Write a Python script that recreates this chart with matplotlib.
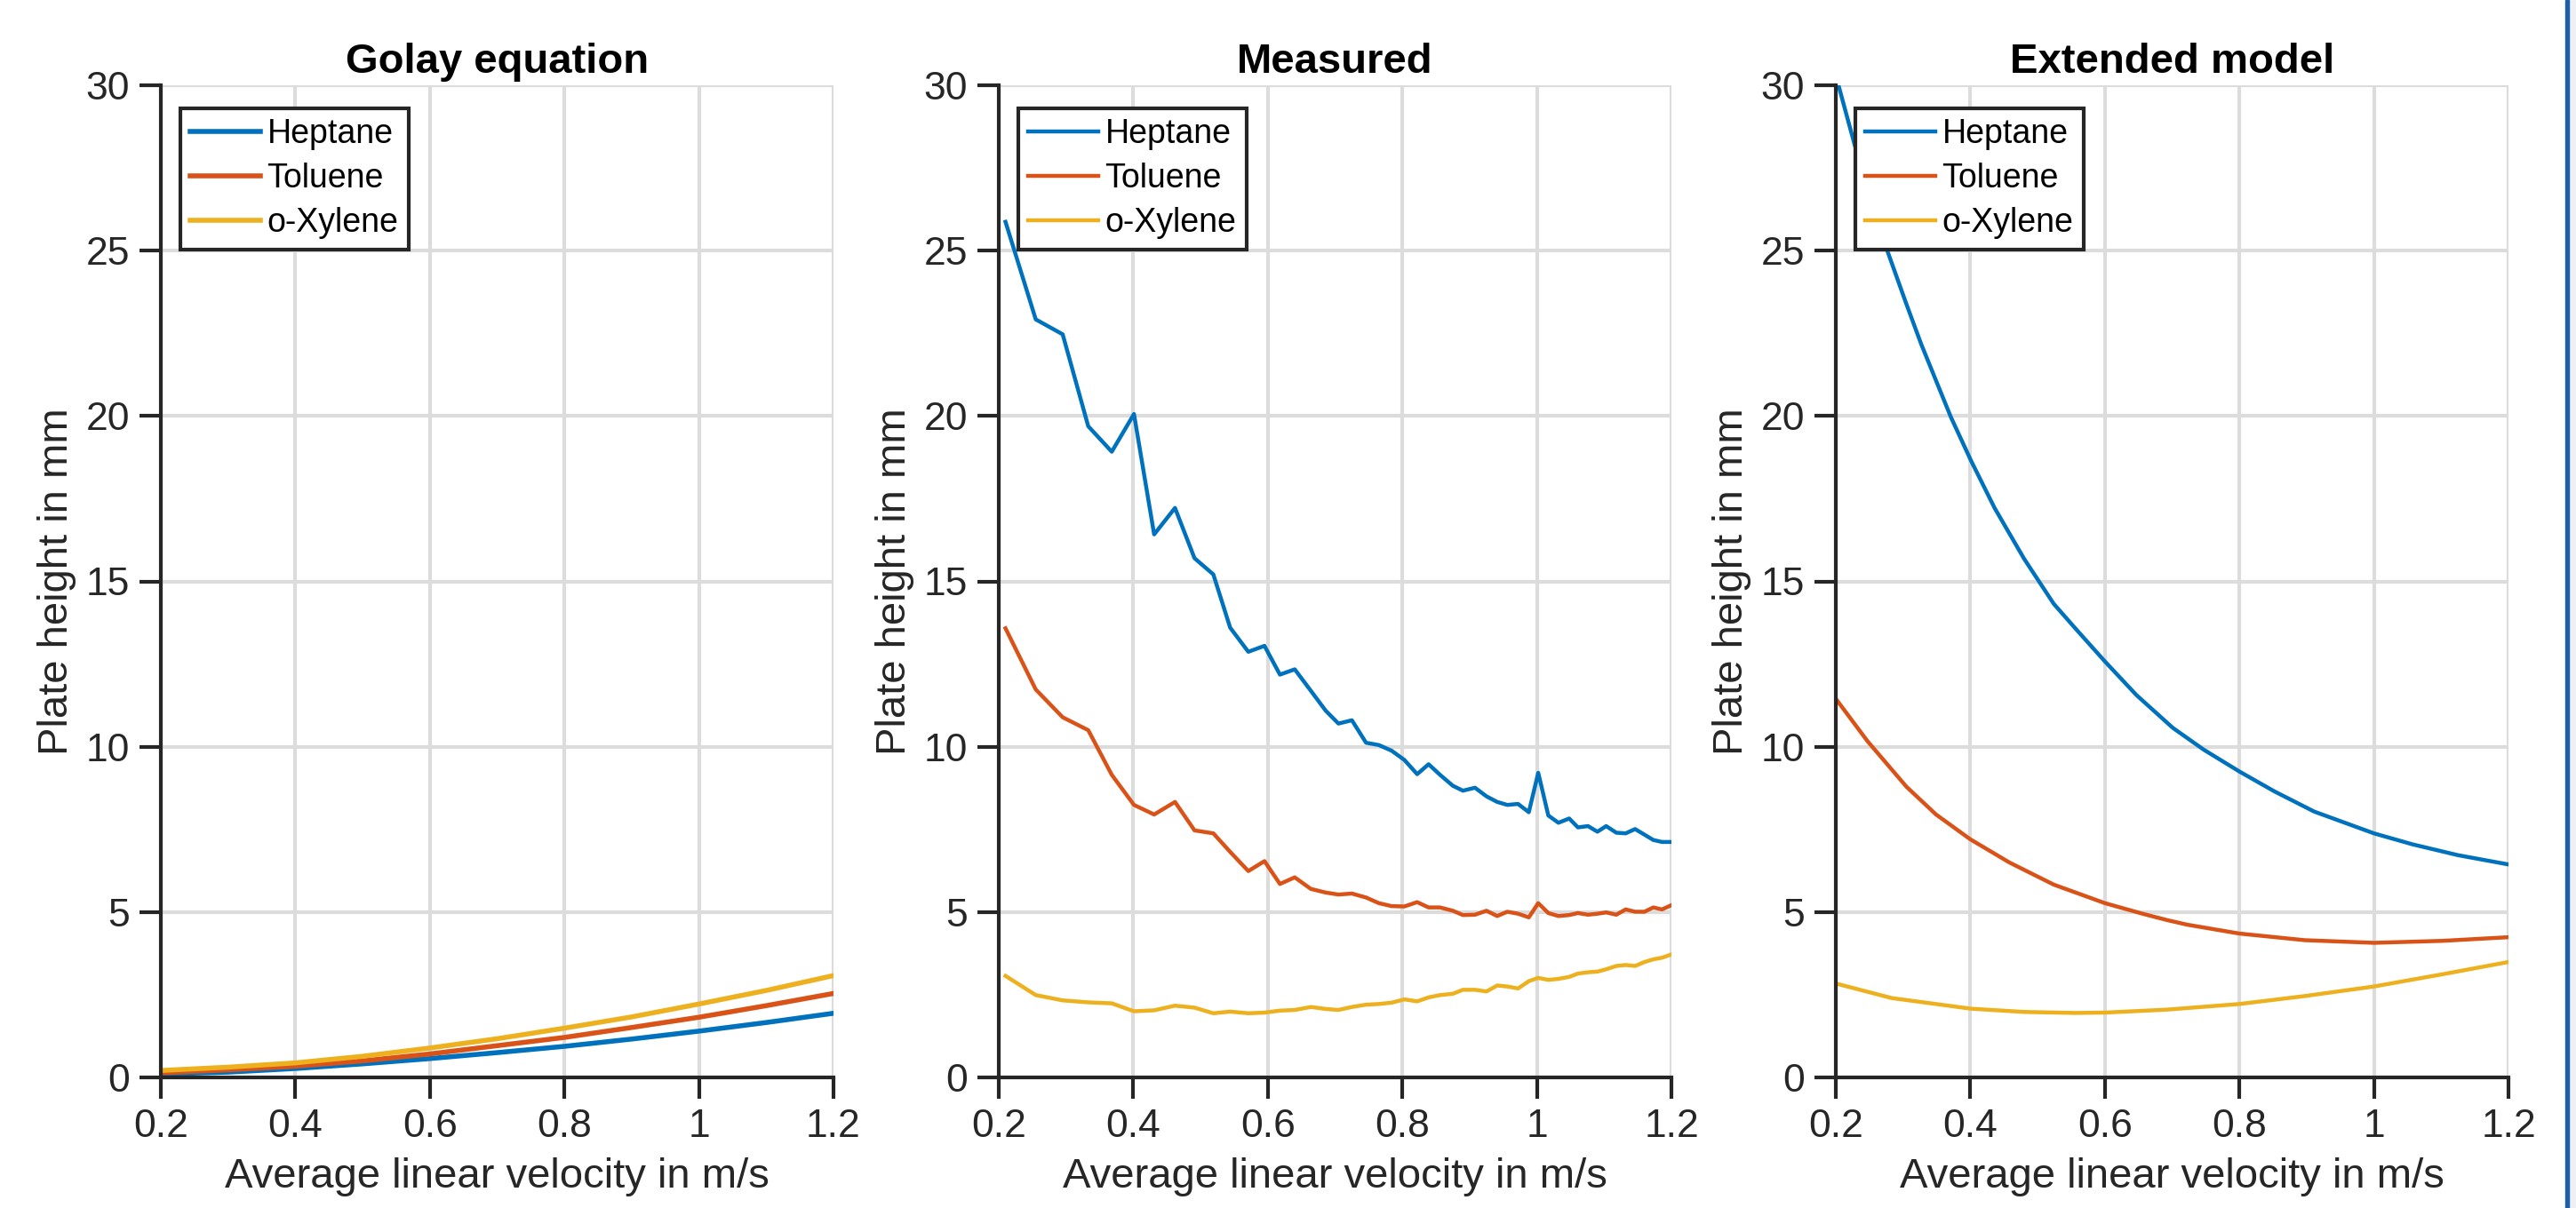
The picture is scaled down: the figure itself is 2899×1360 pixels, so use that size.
import numpy as np
import matplotlib
matplotlib.use("Agg")
import matplotlib.pyplot as plt
from matplotlib.ticker import FuncFormatter

plt.rcParams['font.family'] = ['Liberation Sans', 'DejaVu Sans']

labels = ["Heptane", "Toluene", "o-Xylene"]
colors = ["#0072BD", "#D95319", "#EDB120"]
titles = ["Golay equation", "Measured", "Extended model"]

# Golay equation
golay_u = [0.2, 0.3, 0.4, 0.5, 0.6, 0.7, 0.8, 0.9, 1.0, 1.1, 1.2]
golay_hep = [0.10, 0.16, 0.27, 0.41, 0.57, 0.75, 0.94, 1.16, 1.40, 1.66, 1.94]
golay_tol = [0.14, 0.23, 0.34, 0.50, 0.71, 0.96, 1.21, 1.51, 1.82, 2.17, 2.54]
golay_xyl = [0.21, 0.31, 0.44, 0.64, 0.89, 1.17, 1.49, 1.83, 2.22, 2.63, 3.08]

# gemessen
meas_u = [0.210, 0.255, 0.295, 0.333, 0.368, 0.401, 0.431, 0.462, 0.491, 0.519,
          0.544, 0.571, 0.595, 0.618, 0.640, 0.664, 0.686, 0.705, 0.725, 0.746,
          0.765, 0.784, 0.803, 0.822, 0.839, 0.856, 0.875, 0.890, 0.908, 0.925,
          0.941, 0.956, 0.972, 0.988, 1.002, 1.017, 1.032, 1.048, 1.061, 1.076,
          1.090, 1.103, 1.118, 1.132, 1.146, 1.160, 1.173, 1.186, 1.200]
meas_hep = [25.87, 22.92, 22.47, 19.69, 18.92, 20.06, 16.42, 17.22, 15.70, 15.21,
            13.60, 12.87, 13.05, 12.18, 12.34, 11.69, 11.09, 10.70, 10.80, 10.12,
            10.05, 9.88, 9.60, 9.17, 9.47, 9.15, 8.82, 8.67, 8.76, 8.50,
            8.33, 8.24, 8.27, 8.02, 9.21, 7.92, 7.70, 7.83, 7.56, 7.60,
            7.43, 7.60, 7.40, 7.38, 7.51, 7.34, 7.18, 7.12, 7.12]
meas_tol = [13.58, 11.73, 10.89, 10.50, 9.15, 8.24, 7.95, 8.33, 7.47, 7.38,
            6.82, 6.24, 6.54, 5.85, 6.05, 5.70, 5.59, 5.53, 5.56, 5.44,
            5.27, 5.18, 5.17, 5.30, 5.14, 5.14, 5.04, 4.91, 4.92, 5.04,
            4.88, 5.01, 4.95, 4.84, 5.27, 4.97, 4.88, 4.91, 4.97, 4.92,
            4.95, 4.99, 4.92, 5.08, 5.01, 5.01, 5.14, 5.08, 5.21]
meas_xyl = [3.07, 2.49, 2.33, 2.27, 2.24, 2.00, 2.03, 2.17, 2.11, 1.94,
            1.99, 1.94, 1.96, 2.02, 2.04, 2.13, 2.07, 2.04, 2.13, 2.20,
            2.22, 2.26, 2.36, 2.30, 2.42, 2.49, 2.53, 2.65, 2.65, 2.60,
            2.78, 2.75, 2.69, 2.91, 3.01, 2.95, 2.98, 3.04, 3.14, 3.18,
            3.20, 3.27, 3.37, 3.40, 3.37, 3.49, 3.57, 3.62, 3.72]

# erweitertes Modell
ext_hep_u = [0.200, 0.228, 0.276, 0.305, 0.327, 0.371, 0.401, 0.436, 0.458, 0.480,
             0.524, 0.556, 0.600, 0.647, 0.701, 0.747, 0.800, 0.852, 0.911,
             1.000, 1.057, 1.125, 1.200]
ext_hep = [30.30, 28.20, 25.03, 23.38, 22.17, 19.97, 18.65, 17.22, 16.45, 15.68,
           14.32, 13.58, 12.58, 11.56, 10.57, 9.91, 9.25, 8.65, 8.04,
           7.38, 7.05, 6.72, 6.44]
ext_tol_u = [0.200, 0.247, 0.305, 0.349, 0.400, 0.458, 0.524, 0.600, 0.656, 0.692,
             0.722, 0.800, 0.897, 1.000, 1.102, 1.200]
ext_tol = [11.45, 10.17, 8.79, 7.95, 7.20, 6.50, 5.83, 5.27, 4.95, 4.76,
           4.62, 4.35, 4.15, 4.07, 4.13, 4.24]
ext_xyl_u = [0.200, 0.283, 0.400, 0.480, 0.555, 0.600, 0.692, 0.800, 0.897, 1.000,
             1.102, 1.200]
ext_xyl = [2.84, 2.40, 2.08, 1.98, 1.95, 1.96, 2.05, 2.22, 2.46, 2.75,
           3.12, 3.49]

panels = [
    [(golay_u, golay_hep), (golay_u, golay_tol), (golay_u, golay_xyl)],
    [(meas_u, meas_hep), (meas_u, meas_tol), (meas_u, meas_xyl)],
    [(ext_hep_u, ext_hep), (ext_tol_u, ext_tol), (ext_xyl_u, ext_xyl)],
]
line_w = [4.0, 3.2, 3.2]

W, H = 2899, 1360
fig = plt.figure(figsize=(W / 100, H / 100), dpi=100)

ax_left = [181, 1124, 2066]
ax_w = 757
ax_top, ax_bot = 96, 1213
dark = "#262626"

for i, series in enumerate(panels):
    ax = fig.add_axes([ax_left[i] / W, 1 - ax_bot / H, ax_w / W, (ax_bot - ax_top) / H])
    for (u, h), lab, c in zip(series, labels, colors):
        ax.plot(u, h, color=c, lw=line_w[i], label=lab, solid_joinstyle='round')
    ax.set_xlim(0.2, 1.2)
    ax.set_ylim(0, 30)
    ax.set_xticks([0.2, 0.4, 0.6, 0.8, 1.0, 1.2])
    ax.set_yticks([0, 5, 10, 15, 20, 25, 30])
    ax.xaxis.set_major_formatter(FuncFormatter(lambda v, p: f"{v:g}"))
    ax.grid(True, color="#dcdcdc", lw=3)
    ax.set_axisbelow(True)
    for s in ["top", "right"]:
        ax.spines[s].set_visible(False)
    for s in ["left", "bottom"]:
        ax.spines[s].set_color(dark)
        ax.spines[s].set_linewidth(3)
    ax.tick_params(direction="out", length=17, width=3, color=dark,
                   labelsize=32, labelcolor=dark, pad=8)
    ax.set_xlabel("Average linear velocity in m/s", fontsize=34, color=dark, labelpad=10)
    ax.set_ylabel("Plate height in mm", fontsize=34, color=dark, labelpad=8)
    ax.set_title(titles[i], fontsize=34, fontweight="bold", pad=10)
    leg = ax.legend(loc="upper left", bbox_to_anchor=(0.029, 0.977), borderaxespad=0,
                    fontsize=27, handlelength=2.1, handletextpad=0.2, labelspacing=0.38,
                    borderpad=0.3, fancybox=False, framealpha=1, edgecolor=dark)
    leg.get_frame().set_linewidth(3)
    for t in leg.get_texts():
        t.set_color("black")

# Rand rechts (Fensterkante)
fig.patches.append(plt.Rectangle((2891 / W, 0), 8 / W, 1, transform=fig.transFigure,
                                 color="#eef0f5", zorder=0))
fig.patches.append(plt.Rectangle((2887 / W, 0), 4 / W, 1, transform=fig.transFigure,
                                 color="#1d5fa8", zorder=1))

fig.savefig("out.png", dpi=100)
